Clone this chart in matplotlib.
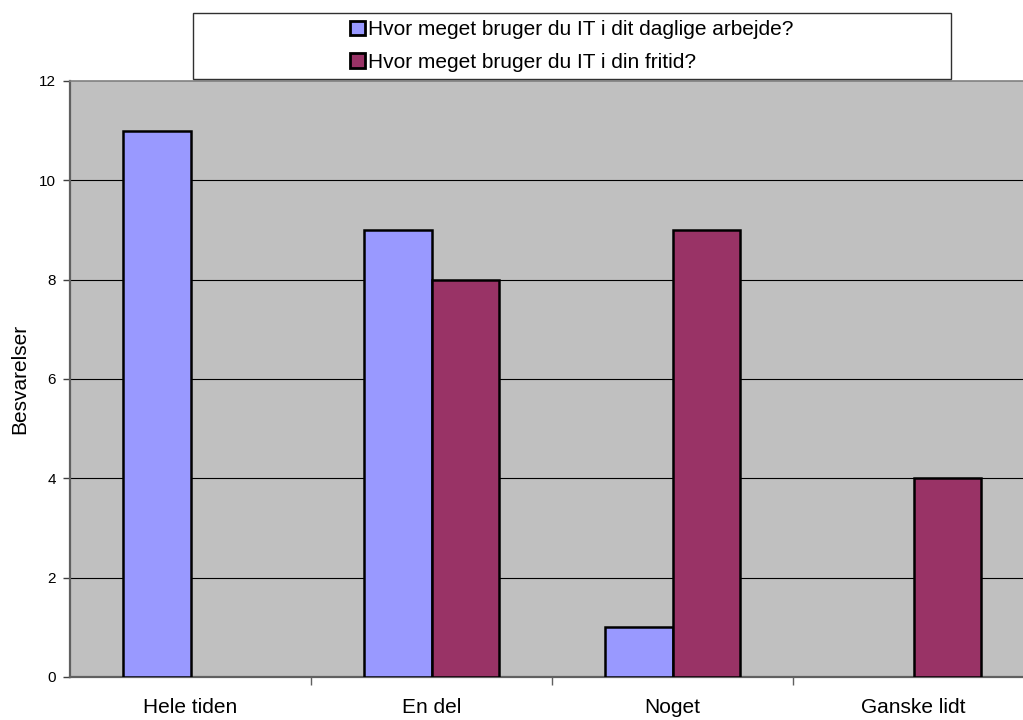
import matplotlib
matplotlib.use("Agg")
import matplotlib.pyplot as plt
from matplotlib.patches import Rectangle, Patch
import numpy as np

plt.rcParams['font.family'] = ['Liberation Sans', 'DejaVu Sans']

categories = ["Hele tiden", "En del", "Noget", "Ganske lidt"]
series_names = ["Hvor meget bruger du IT i dit daglige arbejde?",
                "Hvor meget bruger du IT i din fritid?"]
arbejde = [11, 9, 1, 0]
fritid = [0, 8, 9, 4]
y_ticks = [0, 2, 4, 6, 8, 10, 12]
y_label = "Besvarelser"

colors = ["#9999FF", "#993366"]
W, H = 1023, 720
fig = plt.figure(figsize=(W / 100, H / 100), dpi=100)

# plot area (extends slightly past the right edge of the canvas)
left, right, top, bottom = 70, 1034, 81, 677
ax = fig.add_axes([left / W, 1 - bottom / H, (right - left) / W, (bottom - top) / H])
ax.set_facecolor("#C0C0C0")

x = np.arange(len(categories))
bw = 0.282
for vals, off, col, name in [(arbejde, -bw / 2, colors[0], series_names[0]),
                             (fritid, bw / 2, colors[1], series_names[1])]:
    lw = [1.8 if v > 0 else 0 for v in vals]
    ax.bar(x + off, vals, width=bw, color=col, edgecolor="black",
           linewidth=lw, zorder=3, label=name)

ax.set_xlim(-0.5, len(categories) - 0.5)
ax.set_ylim(0, 12)
ax.set_yticks(y_ticks)
ax.set_yticklabels([str(t) for t in y_ticks], fontsize=11)
ax.tick_params(axis="y", length=5, width=1, color="#404040", pad=5)

ax.set_xticks(x)
ax.set_xticklabels(categories, fontsize=15)
ax.tick_params(axis="x", which="major", length=0, pad=15)
ax.set_xticks(np.arange(len(categories) - 1) + 0.5, minor=True)
ax.tick_params(axis="x", which="minor", length=6, width=1, color="#606060")

for yv in y_ticks[1:-1]:
    ax.axhline(yv, color="black", linewidth=0.8, zorder=1)

for side in ["left", "bottom"]:
    ax.spines[side].set_color("#606060")
    ax.spines[side].set_linewidth(1.6)
ax.spines["top"].set_color("#808080")
ax.spines["top"].set_linewidth(1.2)
ax.spines["right"].set_visible(False)

ax.set_ylabel(y_label, fontsize=15)
ax.yaxis.set_label_coords(-(left - 29) / (right - left), 0.5)

# legend box
lx0, lx1, ly0, ly1 = 193, 951, 13, 79
fig.patches.append(Rectangle((lx0 / W, 1 - ly1 / H), (lx1 - lx0) / W, (ly1 - ly0) / H,
                             transform=fig.transFigure, facecolor="white",
                             edgecolor="#303030", linewidth=1.0, zorder=0))
handles = [Patch(facecolor=c, edgecolor="black", linewidth=2.0) for c in colors]
fig.legend(handles, series_names, loc="center",
           bbox_to_anchor=((lx0 + lx1) / 2 / W, 1 - (ly0 + ly1) / 2 / H),
           frameon=False, fontsize=15, handlelength=0.72, handleheight=0.72,
           handletextpad=0.15, labelspacing=0.65, borderpad=0)

fig.savefig("out.png", dpi=100)
